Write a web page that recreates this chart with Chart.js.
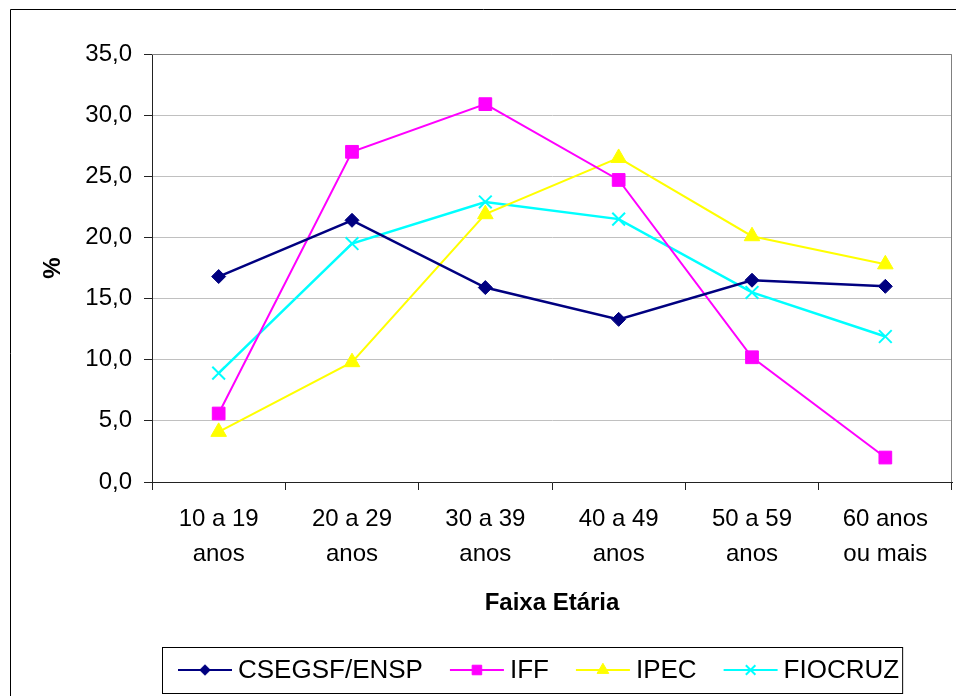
<!DOCTYPE html>
<html>
<head>
<meta charset="utf-8">
<script src="https://cdn.jsdelivr.net/npm/chart.js"></script>
<style>
  body { margin: 0; background: #fff; }
  #wrap { position: relative; width: 956px; height: 696px; }
</style>
</head>
<body>
<div id="wrap"><canvas id="myChart" width="956" height="696"></canvas></div>
<script>
const faixas = [
  ['10 a 19', 'anos'], ['20 a 29', 'anos'], ['30 a 39', 'anos'],
  ['40 a 49', 'anos'], ['50 a 59', 'anos'], ['60 anos', 'ou mais']
];
const csegsf = [16.8, 21.4, 15.9, 13.3, 16.5, 16.0];
const iff = [5.6, 27.0, 30.9, 24.7, 10.2, 2.0];
const ipec = [4.1, 9.8, 21.9, 26.5, 20.1, 17.8];
const fiocruz = [8.9, 19.5, 22.9, 21.5, 15.5, 11.9];

const FONT = "'Liberation Sans', Arial, sans-serif";

// frame, outer border and the excel-like legend (line + marker)
const excelBits = {
  id: 'excelBits',
  afterDraw(chart) {
    const ctx = chart.ctx;
    const a = chart.chartArea;
    ctx.save();
    ctx.strokeStyle = '#808080';
    ctx.lineWidth = 1;
    ctx.beginPath();
    ctx.moveTo(a.left, a.top + 0.5);
    ctx.lineTo(a.right - 0.5, a.top + 0.5);
    ctx.lineTo(a.right - 0.5, a.bottom);
    ctx.stroke();

    ctx.strokeStyle = '#000';
    ctx.beginPath();
    ctx.moveTo(10.5, 700);
    ctx.lineTo(10.5, 9.5);
    ctx.lineTo(960, 9.5);
    ctx.stroke();

    // legend
    ctx.font = '26px ' + FONT;
    ctx.textBaseline = 'middle';
    ctx.fillStyle = '#000';
    const y = 670;
    let x = 178;
    chart.data.datasets.forEach(ds => {
      ctx.strokeStyle = ds.borderColor;
      ctx.lineWidth = 2;
      ctx.beginPath();
      ctx.moveTo(x, y);
      ctx.lineTo(x + 54, y);
      ctx.stroke();
      ctx.fillStyle = ds.pointBackgroundColor;
      ctx.strokeStyle = ds.pointBorderColor;
      ctx.lineWidth = ds.pointBorderWidth;
      Chart.helpers.drawPoint(ctx, {
        pointStyle: ds.pointStyle,
        radius: ds.pointRadius * 0.75,
        rotation: 0,
        borderWidth: ds.pointBorderWidth
      }, x + 27, y);
      ctx.fillStyle = '#000';
      ctx.fillText(ds.label, x + 60, y + 1);
      x += 60 + ctx.measureText(ds.label).width + 27;
    });
    ctx.strokeStyle = '#000';
    ctx.lineWidth = 1;
    ctx.strokeRect(162.5, 647.5, x - 27 + 3 - 162, 46);
    ctx.restore();
  }
};

new Chart(document.getElementById('myChart'), {
  type: 'line',
  data: {
    labels: faixas,
    datasets: [{
      label: 'CSEGSF/ENSP',
      data: csegsf,
      borderColor: '#000080',
      borderWidth: 2.5,
      pointStyle: 'rectRot',
      pointRadius: 7,
      pointBackgroundColor: '#000080',
      pointBorderColor: '#000080',
      pointBorderWidth: 1
    }, {
      label: 'IFF',
      data: iff,
      borderColor: '#ff00ff',
      borderWidth: 2,
      pointStyle: 'rect',
      pointRadius: 9,
      pointBackgroundColor: '#ff00ff',
      pointBorderColor: '#ff00ff',
      pointBorderWidth: 1
    }, {
      label: 'IPEC',
      data: ipec,
      borderColor: '#ffff00',
      borderWidth: 2,
      pointStyle: 'triangle',
      pointRadius: 9,
      pointBackgroundColor: '#ffff00',
      pointBorderColor: '#ffff00',
      pointBorderWidth: 1
    }, {
      label: 'FIOCRUZ',
      data: fiocruz,
      borderColor: '#00ffff',
      borderWidth: 2.5,
      pointStyle: 'crossRot',
      pointRadius: 9,
      pointBackgroundColor: '#00ffff',
      pointBorderColor: '#00ffff',
      pointBorderWidth: 2
    }]
  },
  options: {
    responsive: false,
    animation: false,
    layout: { autoPadding: false, padding: { left: 0, top: 54, right: 4, bottom: 0 } },
    plugins: {
      legend: { display: false },
      tooltip: { enabled: false }
    },
    scales: {
      x: {
        offset: true,
        afterFit: s => { s.height = 214; },
        grid: { display: true, drawOnChartArea: false, offset: true, tickLength: 8, tickColor: '#222' },
        border: { color: '#222', width: 1 },
        ticks: {
          color: '#000', padding: 12, maxRotation: 0, autoSkip: false,
          font: { family: FONT, size: 24, lineHeight: 1.45 }
        },
        title: {
          display: true, text: 'Faixa Etária', color: '#000',
          font: { family: FONT, size: 24, weight: 'bold' },
          padding: { top: 0, bottom: 78 }
        }
      },
      y: {
        min: 0, max: 35,
        afterFit: s => { s.width = 152; },
        grid: { color: '#c0c0c0', lineWidth: 1, tickLength: 8, tickColor: '#222' },
        border: { color: '#222', width: 1 },
        ticks: {
          stepSize: 5, color: '#000', padding: 12,
          font: { family: FONT, size: 24 },
          callback: v => v.toFixed(1).replace('.', ',')
        },
        title: {
          display: true, text: '%', color: '#000',
          font: { family: FONT, size: 24, weight: 'bold' },
          padding: { top: 39, bottom: 0 }
        }
      }
    }
  },
  plugins: [excelBits]
});
</script>
</body>
</html>
